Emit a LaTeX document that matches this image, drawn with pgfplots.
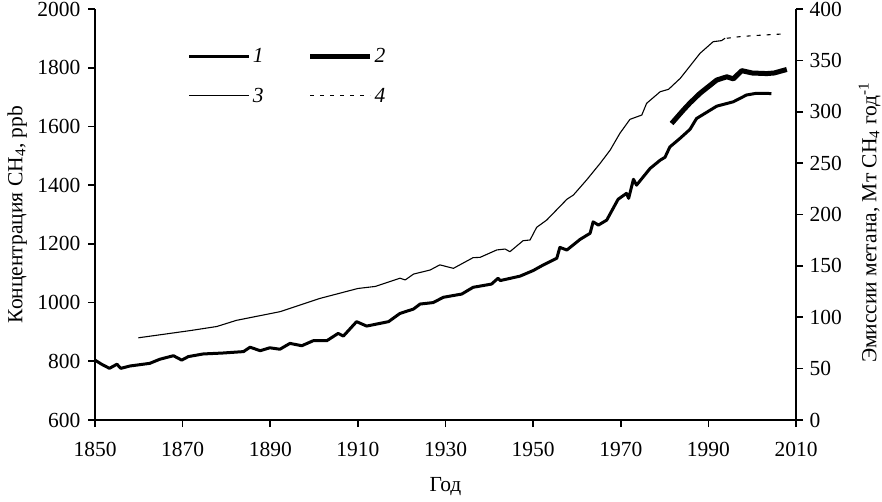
\documentclass[border=0pt]{standalone}
\usepackage{pgfplots}
\pgfplotsset{compat=1.18}
\usepackage{fontspec}
\setmainfont{Liberation Serif}

\begin{document}
\begin{tikzpicture}[x=1pt,y=1pt]
\path[use as bounding box] (0,0) rectangle (882,501);
\pgfplotsset{
  every axis/.append style={
    scale only axis, width=701pt, height=411pt, at={(95pt,81pt)}, anchor=south west,
    xmin=1850, xmax=2010,
    font=\fontsize{21.5}{25}\selectfont,
    tick align=outside, major tick length=7pt,
    /pgf/number format/assume math mode=true,
    /pgf/number format/1000 sep={},
    axis line style={-, line width=1.6pt},
    tick style={line width=1.6pt, black},
  }
}
\begin{axis}[
  axis x line*=bottom, axis y line*=left,
  ymin=600, ymax=2000, ytick={600,800,...,2000},
  xtick={1850,1870,...,2010},
  xticklabel style={yshift=-12pt},
  yticklabel style={xshift=-4pt},
  xlabel={Год}, ylabel={Концентрация CH\textsubscript{4}, ppb},
  xlabel style={at={(axis description cs:0.5,-0.163)}, anchor=center},
  ylabel style={at={(axis description cs:-0.111,0.5)}, anchor=center},
]
\addplot[black, line width=3pt, line join=round] table {
1850 804
1851.5 790
1853.3 776
1855 790
1855.9 776
1858 784
1862.5 793
1864.8 807
1867.9 819
1869.8 804
1871.3 816
1874.7 825
1879 828
1883.9 833
1885.4 848
1887.7 836
1889.9 846
1892.2 841
1894.5 861
1897.2 853
1899.8 870
1902.9 870
1905.5 895
1906.7 886
1909.7 935
1912 920
1915 929
1917 935
1919.6 963
1922.7 978
1924.2 995
1927.2 1000
1929.5 1018
1933.7 1029
1936.3 1052
1940.5 1063
1942 1083
1942.5 1075
1947 1090
1950 1109
1952.3 1128
1955.4 1151
1956.1 1188
1957.7 1179
1960.7 1215
1963 1236
1963.7 1275
1964.9 1264
1966.8 1281
1969.4 1352
1971.3 1372
1971.8 1355
1972.9 1420
1973.6 1400
1976.7 1457
1979 1485
1980.1 1495
1981.2 1530
1983.5 1559
1985.8 1590
1987.3 1627
1991.9 1669
1995.7 1684
1998.7 1707
2001 1713
2004.4 1712
};
\addplot[black, line width=5pt, line join=round] table {
1981.6 1610
1984.3 1656
1985.8 1680
1988.1 1713
1991.9 1758
1994.2 1769
1995.7 1762
1997.6 1790
2000 1782
2003.3 1780
2005 1782
2007.9 1794
};
\end{axis}
\begin{axis}[
  axis x line=none, axis y line*=right,
  ymin=0, ymax=400, ytick={0,50,...,400},
  yticklabel style={xshift=3pt},
  ylabel={Эмиссии метана, Мт CH\textsubscript{4} год\textsuperscript{-1}},
  ylabel style={at={(axis description cs:1.105,0.48)}, anchor=center},
  legend columns=2,
  legend style={draw=none, fill=none, at={(axis description cs:0.128,0.915)}, anchor=north west,
    font=\itshape\fontsize{21.5}{25}\selectfont,
    /tikz/every even column/.append style={column sep=42pt}, row sep=20pt},
  legend image code/.code={\draw[#1] (0pt,0pt) -- (60pt,0pt);},
]
\addlegendimage{black, line width=3pt}
\addlegendentry{1}
\addlegendimage{black, line width=5pt}
\addlegendentry{2}
\addplot[black, line width=1.1pt, line join=round] table {
1859.9 80
1871.7 87
1877.8 91
1882.3 97
1892.2 105.4
1901.4 118.4
1910 128
1914 130
1919.6 138
1920.8 136.3
1922.7 142
1926.5 146
1928.7 151
1931.8 147.6
1936.3 158
1937.9 158.3
1941.7 165.5
1943.6 166.4
1944.7 163.8
1947.7 174.5
1949.3 175.2
1950.8 187.5
1953.1 194.6
1957.7 214.8
1959.2 219
1962.2 233.6
1965.3 249.8
1967.6 262.8
1969.8 279
1972.1 292.6
1974.8 296.8
1975.9 308.2
1979 319.5
1980.9 321.8
1983.6 332.6
1988.1 356.9
1991.1 368.2
1993 369.2
1993.8 371.5
};
\addlegendentry{3}
\addplot[black, line width=1.1pt, dash pattern=on 4pt off 6pt] table {
1994.2 371.5
1997 373
2000 374
2004 375
2007.1 375.7
};
\addlegendentry{4}
\end{axis}
\end{tikzpicture}
\end{document}
